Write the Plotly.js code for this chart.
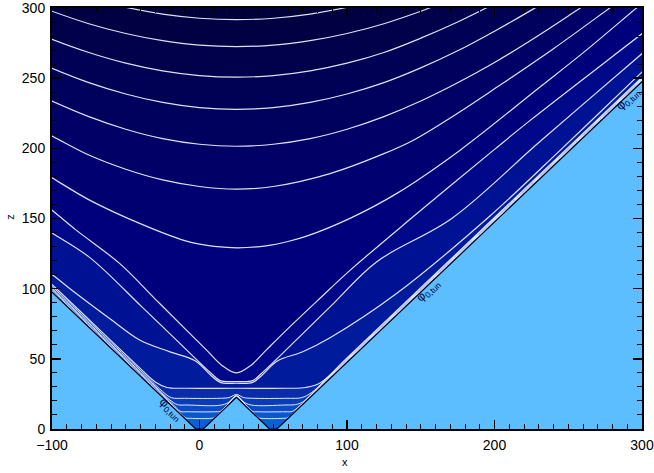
<!DOCTYPE html>
<html>
<head>
<meta charset="utf-8">
<script src="https://cdn.plot.ly/plotly-3.0.1.min.js"></script>
<style>
  html, body { margin: 0; padding: 0; background: #fff; }
  #chart { width: 654px; height: 473px; }
</style>
</head>
<body>
<div id="chart"></div>
<script>
// Contour lines of the potential, listed from the top of the domain down to the surface.
// Each line is a pair of x / z arrays; points beyond the axes only close the shapes.
const t1X = [-60, -50, -25, 0, 25, 50, 75, 100, 110];
const t1Z = [302.9, 300.5, 295.6, 292.7, 291.7, 292.7, 295.6, 300.5, 302.9];
const t2X = [-110, -100, -75, -50, -25, 0, 25, 50, 75, 100, 125, 150, 160, 175];
const t2Z = [301.7, 297.7, 288.8, 281.8, 276.7, 273.5, 272.5, 273.5, 276.7, 281.8, 288.8, 297.7, 301.7, 308.2];
const t3X = [-110, -100, -75, -50, -25, 0, 25, 50, 75, 100, 125, 150, 175, 200, 215];
const t3Z = [282, 277.7, 268.3, 260.7, 255.2, 251.8, 250.7, 251.8, 255.2, 260.7, 268.3, 278.5, 290, 303, 311];
const t4X = [-110, -100, -75, -50, -25, 0, 25, 50, 75, 100, 125, 150, 175, 200, 225, 240, 255];
const t4Z = [261.6, 257, 246.8, 238.7, 232.7, 229, 227.8, 229, 232.7, 238.7, 246.8, 257.3, 269.5, 283.5, 298.5, 308, 317];
const t5X = [-110, -100, -75, -50, -25, 0, 25, 50, 75, 100, 125, 150, 175, 200, 225, 250, 265, 280];
const t5Z = [238.7, 233.7, 222.6, 213.6, 206.9, 202.9, 201.5, 202.9, 206.9, 213.6, 222.6, 233.7, 246.7, 261.2, 277.2, 294.3, 305, 317];
const t6X = [-110, -100, -75, -50, -25, 0, 25, 50, 88.5, 125, 145, 175, 202, 240, 278.6, 295];
const t6Z = [213.5, 208.7, 195.2, 185.1, 177.5, 172.8, 170.9, 172.8, 182, 196.2, 205.8, 225, 243.8, 271, 300.4, 313];
const t7X = [-120, -110, -100, -74.5, -40.6, -10, 0, 10, 26, 45, 60, 72.6, 102, 133.8, 176.7, 230, 260, 296.7, 310];
const t7Z = [191.4, 185.2, 179, 163.1, 146.5, 134.2, 131.7, 130.1, 129.1, 130.5, 133.6, 137.4, 150.1, 167.9, 198.7, 243, 268, 300.4, 312];
const l8X = [-120, -110, -99.5, -83.6, -54.2, -30, -8.9, 5, 15, 25, 35, 45, 58.9, 80, 102.2, 144.8, 199.4, 224.4, 300.1, 310, 320];
const l8Z = [173.3, 164.6, 155.5, 141.7, 118, 92.6, 70.5, 56, 45.5, 40, 45.5, 56, 70.5, 91.5, 113.2, 151.2, 198.7, 220.1, 281.8, 290, 298.2];
const l9X = [-120, -110, -99.5, -74.5, -38.5, -3, 8, 14, 25, 36, 42, 53, 88.5, 120.2, 171, 231, 300.1, 310, 320];
const l9Z = [153.6, 146.5, 139.4, 122.3, 86.5, 50.5, 39.6, 34.5, 33.8, 34.5, 39.6, 50.5, 87, 119.2, 150, 205, 267.6, 276.5, 285.5];
const l10X = [-120, -110, -99.5, -83.8, -60, -40.6, -20, -3, 8, 14, 25, 36, 42, 53, 70, 88.5, 133.8, 197.1, 244.6, 300.1, 310, 320];
const l10Z = [126, 117.8, 109.7, 96.7, 78, 63.4, 55, 48.6, 38, 33.2, 32.6, 33.2, 38, 48.6, 55, 65, 96.7, 152, 198.7, 254.5, 264.4, 274.4];
const b1X = [-120, -110, -100, -60, -40, -30, -22, -10, 25, 60, 72, 82, 100, 150, 200, 250, 310, 320];
const b1Z = [123, 113, 103, 63, 43, 33.5, 29.6, 29, 29, 29, 29.6, 33, 50.7, 100.7, 150.7, 200.7, 260.7, 270.7];
const b2X = [-120, -110, -60, -35, -25, -19, -10, 14, 20, 25, 30, 36, 60, 69, 76, 90, 150, 310, 320];
const b2Z = [121.7, 111.7, 61.7, 36.7, 26.7, 22.3, 21.9, 21.9, 22.4, 24.6, 22.4, 21.9, 21.9, 22.3, 26, 40, 100, 260, 270];
const b3X = [-120, -110, -60, -30, -20, -15, -8, 15, 21, 25, 29, 35, 58, 65, 70, 80, 150, 310, 320];
const b3Z = [120.5, 110.5, 60.5, 30.5, 20.6, 17.4, 17.1, 17.1, 19.8, 24, 19.8, 17.1, 17.1, 17.4, 19.3, 29.3, 99.3, 259.3, 269.3];
const b4X = [-120, -110, -60, -30, -18, -13, -8, 11, 14, 19, 25, 31, 36, 39, 58, 63, 68, 80, 150, 310, 320];
const b4Z = [119.5, 109.5, 59.5, 29.5, 17.5, 12.6, 12.3, 12.3, 12.6, 17.5, 23.5, 17.5, 12.6, 12.3, 12.3, 12.6, 16.7, 28.7, 98.7, 258.7, 268.7];
const b5X = [-120, -110, -60, -30, -15, -9.5, -6, 8, 10, 17, 25, 33, 40, 42, 56, 60, 65, 80, 150, 310, 320];
const b5Z = [118.5, 108.5, 58.5, 28.5, 13.5, 8, 7.6, 7.6, 8.1, 15.1, 23.1, 15.1, 8.1, 7.6, 7.6, 8.1, 13.1, 28.1, 98.1, 258.1, 268.1];

// Surface where the potential drops below phi_0,tun (two notches and a ridge)
const groundX = [-120, -2.5, 2.5, 25, 47.5, 52.5, 320];
const groundZ = [117.5, 0, 0, 22.5, 0, 0, 267.5];

// Fill colour of the band lying under each contour line
const topColor = '#00003a';
const bandColors = ['#000042', '#00004b', '#000054', '#00005d', '#000066', '#000070', '#00007c',
                    '#00088a', '#001294', '#001c9c', '#0a2caa', '#0a3cb8', '#0a4cc6', '#0a56cf', '#0a60d8'];
const groundColor = '#5cbeff';
// Line widths: the lines hugging the surface are drawn a little finer
const lineWidths = [1.2, 1.2, 1.2, 1.2, 1.2, 1.2, 1.2, 1.2, 1.2, 1.2, 1.1, 1, 1, 1, 1];

const lineXs = [t1X, t2X, t3X, t4X, t5X, t6X, t7X, l8X, l9X, l10X, b1X, b2X, b3X, b4X, b5X];
const lineZs = [t1Z, t2Z, t3Z, t4Z, t5Z, t6Z, t7Z, l8Z, l9Z, l10Z, b1Z, b2Z, b3Z, b4Z, b5Z];

// Potential label placed along the surface
const labelX = [-19.5, 155, 291];
const labelZ = [13.5, 98.5, 235];
const labelAngle = [43.6, -43.6, -43.6];

const traces = [];
// Bands: each shape covers everything below its contour line, painted top to bottom
lineXs.forEach((xs, i) => {
  const zs = lineZs[i];
  const n = xs.length;
  traces.push({
    type: 'scatter', mode: 'lines',
    x: xs.concat([340, 340, -140, -140]),
    y: zs.concat([zs[n - 1], -40, -40, zs[0]]),
    fill: 'toself', fillcolor: bandColors[i],
    line: { width: 0, shape: 'spline', smoothing: 1 },
    hoverinfo: 'skip', showlegend: false
  });
});
// Region under the surface
traces.push({
  type: 'scatter', mode: 'lines',
  x: groundX.concat([340, 340, -140, -140]),
  y: groundZ.concat([groundZ[groundZ.length - 1], -40, -40, groundZ[0]]),
  fill: 'toself', fillcolor: groundColor, line: { width: 0 },
  hoverinfo: 'skip', showlegend: false
});
// White contour lines
lineXs.forEach((xs, i) => {
  traces.push({
    type: 'scatter', mode: 'lines', x: xs, y: lineZs[i],
    line: { color: 'rgba(238,242,255,0.93)', width: lineWidths[i], shape: 'spline', smoothing: 1 },
    hoverinfo: 'skip', showlegend: false
  });
});
// Surface outline
traces.push({
  type: 'scatter', mode: 'lines', x: groundX, y: groundZ,
  line: { color: '#000018', width: 1.2 }, hoverinfo: 'skip', showlegend: false
});

const tickFont = { family: 'Liberation Sans, Arial, sans-serif', size: 14, color: '#000' };
const axisCommon = {
  showgrid: false, zeroline: false, showline: true, linecolor: '#000', linewidth: 2,
  mirror: 'allticks', ticks: 'inside', ticklen: 9, tickwidth: 1.5, tickcolor: '#000',
  tickmode: 'linear', tick0: 0, tickfont: tickFont, fixedrange: true,
  ticklabeloverflow: 'allow'
};

const annotations = labelX.map((x, i) => ({
  x: x, y: labelZ[i], xref: 'x', yref: 'y', showarrow: false,
  text: '\u03c6<sub>0,tun</sub>', textangle: labelAngle[i],
  font: { family: 'Liberation Sans, Arial, sans-serif', size: 12, color: '#000040' },
  xanchor: 'center', yanchor: 'middle'
}));
annotations.push({
  x: 0.497, y: 0, xref: 'paper', yref: 'paper', yshift: -33, showarrow: false,
  text: 'x', font: { family: 'Liberation Sans, Arial, sans-serif', size: 11, color: '#000' },
  xanchor: 'center', yanchor: 'middle'
});
annotations.push({
  x: 0, y: 0.504, xref: 'paper', yref: 'paper', xshift: -42, showarrow: false,
  text: 'z', textangle: -90, font: { family: 'Liberation Sans, Arial, sans-serif', size: 11, color: '#000' },
  xanchor: 'center', yanchor: 'middle'
});

const layout = {
  width: 654, height: 473,
  margin: { l: 52, r: 12, t: 8, b: 44, pad: 0 },
  paper_bgcolor: '#ffffff', plot_bgcolor: topColor,
  showlegend: false,
  xaxis: Object.assign({}, axisCommon, {
    range: [-100, 300], dtick: 100, ticklabelstandoff: 2,
    minor: { ticks: 'inside', ticklen: 5, tickwidth: 1, tickcolor: '#000', dtick: 10, tick0: 0, showgrid: false }
  }),
  yaxis: Object.assign({}, axisCommon, {
    range: [0, 300], dtick: 50, ticklabelstandoff: 2,
    minor: { ticks: 'inside', ticklen: 5, tickwidth: 1, tickcolor: '#000', dtick: 10, tick0: 0, showgrid: false }
  }),
  annotations: annotations
};

Plotly.newPlot('chart', traces, layout, { staticPlot: true, displayModeBar: false });
</script>
</body>
</html>
